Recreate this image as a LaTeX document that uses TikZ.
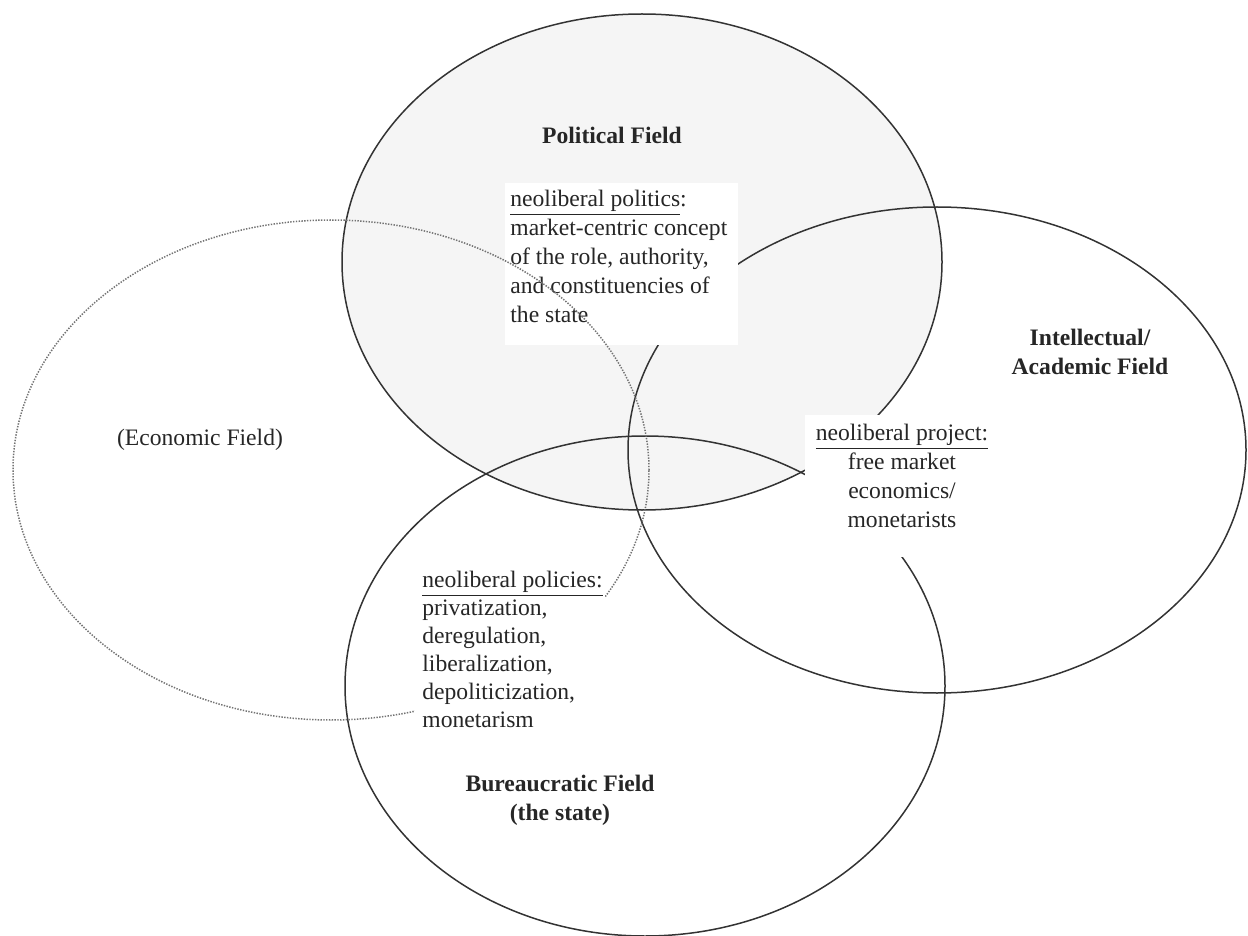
\documentclass[tikz,border=0pt]{standalone}
\usepackage{fontspec}
\setmainfont{Liberation Serif}
\begin{document}
\begin{tikzpicture}[x=0.5pt,y=-0.5pt,
  field/.style={draw=black!80, line width=0.75pt},
  econ/.style={draw=black!55, line width=0.75pt, dash pattern=on 0.7pt off 0.7pt},
  whitebox/.style={fill=white, draw=none, inner sep=0pt, anchor=north west},
  txt/.style={inner sep=0pt, text=black!85, font=\fontsize{11.8}{14.5}\selectfont},
  fieldlabel/.style={inner sep=0pt, text=black!85, font=\fontsize{11.8}{14.5}\selectfont\bfseries, align=center}]
\useasboundingbox (0,0) rectangle (1248,936);
% fields
\draw[field, fill=black!4] (642,262) ellipse [x radius=150pt, y radius=124pt];
\draw[field] (937,450) ellipse [x radius=154.5pt, y radius=121.5pt];
\draw[field] (645,686) ellipse [x radius=150pt, y radius=125pt];
% politics box
\node[whitebox, minimum width=116.5pt, minimum height=81pt] (polbox) at (505,183) {};
\node[txt, anchor=north west, align=left] (poltxt) at (510,190)
  {\underline{neoliberal politics}:\\market-centric concept\\of the role, authority,\\and constituencies of\\the state};
% economic field (dotted)
\draw[econ] (331,470) ellipse [x radius=159pt, y radius=125pt];
% project box
\node[whitebox, minimum width=97.5pt, minimum height=71pt] (projbox) at (805,415) {};
\node[txt, anchor=north, align=center] (projtxt) at (902,424)
  {\underline{neoliberal project:}\\free market\\economics/\\monetarists};
% policies box
\node[whitebox, minimum width=95pt, minimum height=87pt] (polibox) at (415,560) {};
\node[txt, anchor=north west, align=left, font=\fontsize{11.8}{14}\selectfont] (politxt) at (422,571)
  {\underline{neoliberal policies:}\\privatization,\\deregulation,\\liberalization,\\depoliticization,\\monetarism};
% labels
\node[fieldlabel] (polfield) at (612,135) {Political Field};
\node[txt] (econfield) at (200,440) {(Economic Field)};
\node[fieldlabel] (intfield) at (1090,352) {Intellectual/\\Academic Field};
\node[fieldlabel] (burfield) at (560,800) {Bureaucratic Field\\(the state)};
\end{tikzpicture}
\end{document}
